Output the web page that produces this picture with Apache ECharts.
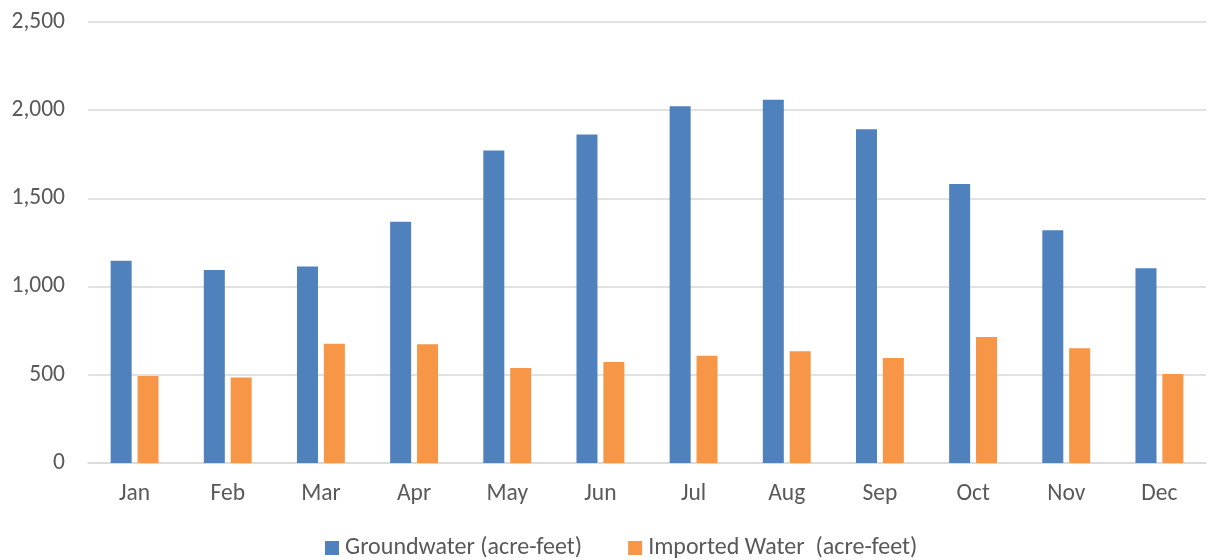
<!DOCTYPE html>
<html>
<head>
<meta charset="utf-8">
<script src="https://cdn.jsdelivr.net/npm/echarts@6/dist/echarts.min.js"></script>
<style>html,body{margin:0;padding:0;background:#fff}#c{width:1208px;height:560px}</style>
</head>
<body>
<div id="c"></div>
<script>
const categories = ['Jan','Feb','Mar','Apr','May','Jun','Jul','Aug','Sep','Oct','Nov','Dec'];
const groundwater = [1146, 1094, 1114, 1368, 1772, 1862, 2023, 2059, 1892, 1582, 1319, 1104];
const imported = [493, 485, 676, 673, 539, 573, 608, 633, 595, 714, 650, 504];
const seriesNames = ['Groundwater (acre-feet)', 'Imported Water  (acre-feet)'];

const font = 'Carlito, Lato, "Open Sans", sans-serif';
const chart = echarts.init(document.getElementById('c'));
chart.setOption({
  animation: false,
  grid: { left: 88, right: 2, top: 22, bottom: 97, containLabel: false },
  legend: {
    left: 325, top: 536, padding: 0,
    itemWidth: 14, itemHeight: 14, itemGap: 46,
    icon: 'rect',
    textStyle: { color: '#595959', fontSize: 24, fontFamily: font, padding: [0,0,0,1] },
    data: seriesNames
  },
  xAxis: {
    type: 'category', data: categories,
    axisLine: { lineStyle: { color: '#D9D9D9', width: 1.5 } },
    axisTick: { show: false },
    axisLabel: { color: '#595959', fontSize: 23.5, fontFamily: font, margin: 19 }
  },
  yAxis: {
    type: 'value', min: 0, max: 2500, interval: 500,
    axisLine: { show: false }, axisTick: { show: false },
    splitLine: { lineStyle: { color: '#D9D9D9', width: 1.5 } },
    axisLabel: {
      color: '#595959', fontSize: 23.5, fontFamily: font, margin: 23,
      formatter: v => v.toLocaleString('en-US')
    }
  },
  series: [
    { name: seriesNames[0], type: 'bar', data: groundwater, barWidth: 21, barGap: '28%',
      itemStyle: { color: '#4F81BD' } },
    { name: seriesNames[1], type: 'bar', data: imported, barWidth: 21,
      itemStyle: { color: '#F79646' } }
  ]
});
</script>
</body>
</html>
